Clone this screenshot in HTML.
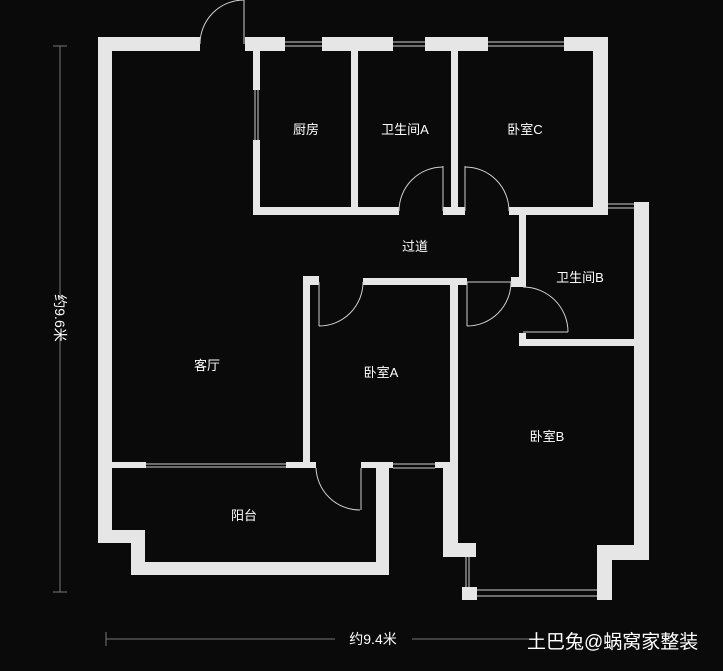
<!DOCTYPE html>
<html><head><meta charset="utf-8"><style>
html,body{margin:0;padding:0;background:#0a0a0a;}
svg{display:block}
text{font-family:"Liberation Sans","Noto Sans CJK SC",sans-serif;fill:#fff;}
</style></head><body>
<svg width="723" height="671" viewBox="0 0 723 671" xmlns="http://www.w3.org/2000/svg">
<rect width="723" height="671" fill="#0a0a0a"/>
<g fill="#e6e6e6">
<!-- outer top -->
<rect x="98" y="37" width="102" height="14"/>
<rect x="245" y="37" width="40" height="14"/>
<rect x="322" y="37" width="71" height="14"/>
<rect x="425" y="37" width="63" height="14"/>
<rect x="564" y="37" width="44" height="14"/>
<!-- left wall -->
<rect x="98" y="37" width="14" height="506"/>
<rect x="98" y="530" width="47" height="13"/>
<rect x="131" y="530" width="14" height="45"/>
<rect x="131" y="562" width="258" height="13"/>
<rect x="376" y="462" width="13" height="113"/>
<!-- kitchen/bath/bedC -->
<rect x="253" y="51" width="7" height="39"/>
<rect x="253" y="140" width="7" height="75"/>
<rect x="351" y="51" width="7" height="160"/>
<rect x="451" y="51" width="7" height="160"/>
<rect x="593" y="37" width="15" height="178"/>
<rect x="253" y="207" width="146" height="8"/>
<rect x="443" y="207" width="22" height="8"/>
<rect x="509" y="207" width="99" height="8"/>
<!-- bath B -->
<rect x="634" y="202" width="15" height="358"/>
<rect x="519" y="215" width="7" height="62"/>
<rect x="511" y="277" width="15" height="10"/>
<rect x="519" y="333" width="7" height="13"/>
<rect x="519" y="339" width="115" height="7"/>
<!-- bedroom A -->
<rect x="303" y="276" width="16" height="9"/>
<rect x="303" y="276" width="7" height="192"/>
<rect x="363" y="278" width="104" height="7"/>
<rect x="450" y="278" width="8" height="190"/>
<!-- living/balcony wall -->
<rect x="112" y="462" width="34" height="6"/>
<rect x="286" y="462" width="30" height="6"/>
<rect x="361" y="462" width="32" height="6"/>
<rect x="435" y="462" width="23" height="6"/>
<!-- bedroom B lower -->
<rect x="443" y="462" width="15" height="95"/>
<rect x="443" y="543" width="33" height="14"/>
<rect x="462" y="587" width="15" height="13"/>
<rect x="597" y="545" width="52" height="15"/>
<rect x="597" y="545" width="15" height="55"/>
</g>
<g stroke="#cfcfcf" stroke-width="1" fill="none">
<!-- windows -->
<line x1="285" y1="42" x2="322" y2="42"/><line x1="285" y1="46" x2="322" y2="46"/>
<line x1="393" y1="42" x2="425" y2="42"/><line x1="393" y1="46" x2="425" y2="46"/>
<line x1="488" y1="42" x2="564" y2="42"/><line x1="488" y1="46" x2="564" y2="46"/>
<line x1="255" y1="90" x2="255" y2="140"/><line x1="258" y1="90" x2="258" y2="140"/>
<line x1="608" y1="204" x2="634" y2="204"/><line x1="608" y1="208" x2="634" y2="208"/>
<line x1="146" y1="464" x2="286" y2="464"/><line x1="146" y1="467" x2="286" y2="467"/>
<line x1="393" y1="464" x2="435" y2="464"/><line x1="393" y1="468" x2="435" y2="468"/>
<line x1="466" y1="557" x2="466" y2="587"/><line x1="469" y1="557" x2="469" y2="587"/>
<line x1="477" y1="590" x2="597" y2="590"/><line x1="477" y1="596" x2="597" y2="596"/>
<!-- doors -->
<line x1="244" y1="0" x2="244" y2="44"/><path d="M200 44 A44 44 0 0 1 244 0"/>
<line x1="443" y1="166" x2="443" y2="211"/><path d="M399 211 A44 44 0 0 1 443 167"/>
<line x1="465" y1="166" x2="465" y2="211"/><path d="M509 211 A44 44 0 0 0 465 167"/>
<line x1="319" y1="282" x2="319" y2="326"/><path d="M319 326 A44 44 0 0 0 363 282"/>
<line x1="467" y1="282" x2="511" y2="282"/><line x1="467" y1="326" x2="467" y2="282"/><path d="M467 326 A44 44 0 0 0 511 282"/>
<line x1="523" y1="332" x2="568" y2="332"/><path d="M568 332 A45 45 0 0 0 523 287"/>
<line x1="361" y1="468" x2="361" y2="510"/><path d="M316 468 A44 44 0 0 0 360 510"/>
</g>
<g stroke="#777" stroke-width="1">
<line x1="60" y1="46" x2="60" y2="300"/><line x1="60" y1="338" x2="60" y2="592"/>
<line x1="53" y1="46" x2="67" y2="46"/><line x1="53" y1="592" x2="67" y2="592"/>
<line x1="106" y1="639" x2="335" y2="639"/><line x1="412" y1="639" x2="530" y2="639"/>
<line x1="106" y1="632" x2="106" y2="646"/>
</g>
<g font-size="13" text-anchor="middle">
<text x="306" y="134">厨房</text>
<text x="405" y="134">卫生间A</text>
<text x="525" y="134">卧室C</text>
<text x="415" y="251">过道</text>
<text x="580" y="282">卫生间B</text>
<text x="207" y="370">客厅</text>
<text x="381" y="377">卧室A</text>
<text x="547" y="441">卧室B</text>
<text x="244" y="520">阳台</text>
<text x="373" y="644" font-size="14">约9.4米</text>
<text transform="translate(55,318) rotate(90)" font-size="14">约9.6米</text>
</g>
<text x="527" y="648" font-size="19">土巴兔@蜗窝家整装</text>
</svg>
</body></html>
